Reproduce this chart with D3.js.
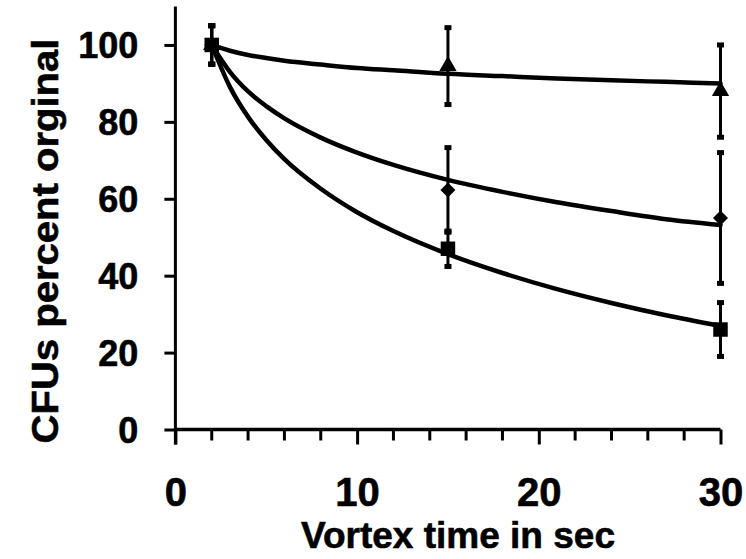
<!DOCTYPE html>
<html>
<head>
<meta charset="utf-8">
<script src="https://cdn.jsdelivr.net/npm/d3@7"></script>
<style>
  html, body { margin: 0; padding: 0; background: #fff; }
  svg { display: block; }
  text { font-family: "Liberation Sans", Arial, Helvetica, sans-serif; font-weight: bold; fill: #000; stroke: #000; stroke-width: 0.6px; }
</style>
</head>
<body>
<svg id="chart" width="746" height="559"></svg>
<script>
// ---- data ----
const times = [2, 15, 30];

const triangleMean = [100, 94.5, 88];
const triangleErr  = [5, 10, 12];

const diamondMean = [100, 62.3, 55];
const diamondErr  = [5, 11, 17];

const squareMean = [100, 47, 26];
const squareErr  = [5, 4.6, 7];

// fitted curves
const fitX        = [2, 3, 4, 5, 6, 8, 10, 12, 15, 18, 21, 24, 27, 30];
const fitTriangle = [100, 98.5, 97.4, 96.6, 95.9, 94.9, 94.0, 93.4, 92.5, 91.9, 91.3, 90.8, 90.4, 90.0];
const fitDiamond  = [100, 93.0, 87.9, 84.1, 80.9, 75.9, 72.0, 68.8, 64.9, 61.8, 59.1, 56.8, 54.7, 53.2];
const fitSquare   = [100, 89.1, 81.3, 75.3, 70.3, 62.6, 56.5, 51.6, 45.6, 40.7, 36.5, 32.9, 29.7, 26.9];

const xTickValues = [0, 10, 20, 30];
const xMinorTicks = [2, 4, 6, 8, 12, 14, 16, 18, 22, 24, 26, 28];
const yTickValues = [0, 20, 40, 60, 80, 100];

const xTitle = "Vortex time in sec";
const yTitle = "CFUs percent orginal";

// ---- scales ----
const svg = d3.select("#chart");
const x = d3.scaleLinear().domain([0, 30]).range([175.4, 720.5]);
const y = d3.scaleLinear().domain([0, 110]).range([429.5, 6.5]);

// ---- axes ----
const yAxis = d3.axisLeft(y).tickValues(yTickValues).tickSize(11).tickFormat(d3.format("d"));
const gy = svg.append("g").attr("transform", `translate(${x(0)},0)`).call(yAxis);
gy.select(".domain").attr("d", `M0,${y(110)}V${y(0) + 15}`).attr("stroke", "#000").attr("stroke-width", 3).attr("fill", "none");
gy.selectAll(".tick line").attr("stroke", "#000").attr("stroke-width", 3);
gy.selectAll(".tick text").attr("x", -37).attr("dy", "0.36em")
  .style("font-size", "36px").attr("text-anchor", "end");

const xAxis = d3.axisBottom(x).tickValues(xTickValues).tickSize(15).tickFormat(d3.format("d"));
const gx = svg.append("g").attr("transform", `translate(0,${y(0)})`).call(xAxis);
gx.select(".domain").attr("d", `M${x(0)},0H${x(30)}`).attr("stroke", "#000").attr("stroke-width", 3.5).attr("fill", "none");
gx.selectAll(".tick line").attr("stroke", "#000").attr("stroke-width", 3);
gx.selectAll(".tick text").attr("y", 0).attr("dy", 76).style("font-size", "40px");

// minor x ticks
svg.append("g").selectAll("line").data(xMinorTicks).join("line")
  .attr("x1", d => x(d)).attr("x2", d => x(d))
  .attr("y1", y(0)).attr("y2", y(0) + 11)
  .attr("stroke", "#000").attr("stroke-width", 3);

// axis titles
svg.append("text").attr("x", 458).attr("y", 548).attr("text-anchor", "middle")
  .style("font-size", "37px").text(xTitle);

svg.append("text")
  .attr("transform", "translate(58,241) rotate(-90)")
  .attr("text-anchor", "middle")
  .attr("textLength", 405).attr("lengthAdjust", "spacingAndGlyphs")
  .style("font-size", "37px").text(yTitle);

// ---- fitted curves ----
const line = d3.line().x(d => x(d[0])).y(d => y(d[1])).curve(d3.curveMonotoneX);
[fitTriangle, fitDiamond, fitSquare].forEach(arr => {
  svg.append("path")
    .datum(fitX.map((t, i) => [t, arr[i]]))
    .attr("d", line)
    .attr("fill", "none").attr("stroke", "#000").attr("stroke-width", 4.5)
    .attr("stroke-linecap", "round");
});

// ---- error bars & markers ----
const series = [
  { mean: triangleMean, err: triangleErr, sym: d3.symbolTriangle, size: 130, rot: 0 },
  { mean: diamondMean,  err: diamondErr,  sym: d3.symbolSquare,   size: 112, rot: 45 },
  { mean: squareMean,   err: squareErr,   sym: d3.symbolSquare,   size: 210, rot: 0 }
];

series.forEach(s => {
  const pts = times.map((t, i) => ({ t, m: s.mean[i], e: s.err[i] }));
  const g = svg.append("g");
  g.selectAll("line.eb").data(pts).join("line").attr("class", "eb")
    .attr("x1", d => x(d.t)).attr("x2", d => x(d.t))
    .attr("y1", d => y(d.m + d.e)).attr("y2", d => y(d.m - d.e))
    .attr("stroke", "#000").attr("stroke-width", 3);
  ["top", "bot"].forEach(k => {
    g.selectAll("rect." + k).data(pts).join("rect").attr("class", k)
      .attr("x", d => x(d.t) - 3.5).attr("width", 7)
      .attr("y", d => y(k === "top" ? d.m + d.e : d.m - d.e) - 2.5).attr("height", 5)
      .attr("fill", "#000");
  });
  g.selectAll("path.mk").data(pts).join("path").attr("class", "mk")
    .attr("transform", d => `translate(${x(d.t)},${y(d.m)}) rotate(${s.rot})`)
    .attr("d", d3.symbol().type(s.sym).size(s.size))
    .attr("fill", "#000");
});
</script>
</body>
</html>
